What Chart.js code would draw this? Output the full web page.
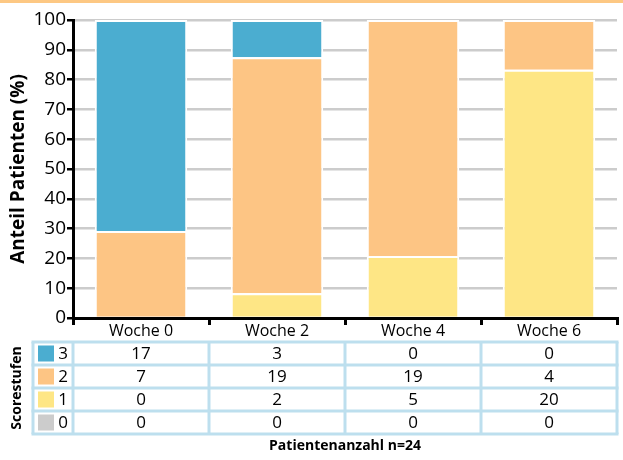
<!DOCTYPE html>
<html>
<head>
<meta charset="utf-8">
<script src="https://cdn.jsdelivr.net/npm/chart.js@4"></script>
<style>
  html, body { margin: 0; padding: 0; background: #fff; }
  #wrap { width: 623px; height: 460px; position: relative; }
</style>
</head>
<body>
<div id="wrap"><canvas id="chart" width="623" height="460"></canvas></div>
<script>
// data (patient counts per score level)
const categories = ['Woche 0', 'Woche 2', 'Woche 4', 'Woche 6'];
const score3 = [17, 3, 0, 0];
const score2 = [7, 19, 19, 4];
const score1 = [0, 2, 5, 20];
const score0 = [0, 0, 0, 0];
const nPatients = 24;
const yTicks = [0, 10, 20, 30, 40, 50, 60, 70, 80, 90, 100];

const colors = { 3: '#4badd0', 2: '#fdc584', 1: '#fee685', 0: '#cccccc' };
const FONT = '"Open Sans", "Noto Sans", sans-serif';

// share of patients in %
function pct(arr) {
  return arr.map(v => v / nPatients * 100);
}

const tableRows = [
  { label: '3', values: score3, color: colors[3] },
  { label: '2', values: score2, color: colors[2] },
  { label: '1', values: score1, color: colors[1] },
  { label: '0', values: score0, color: colors[0] }
];

function makeSet(label, values, color) {
  return {
    label: label,
    data: pct(values),
    backgroundColor: color,
    borderColor: '#ffffff',
    borderWidth: { top: 2, left: 2, right: 2, bottom: 0 },
    borderSkipped: false
  };
}

// draws the orange strip, axis title and the count table
const extras = {
  id: 'extras',
  beforeDraw(chart) {
    const ctx = chart.ctx;
    ctx.save();
    ctx.fillStyle = '#fff';
    ctx.fillRect(0, 0, chart.width, chart.height);
    ctx.fillStyle = '#fdc883';
    ctx.fillRect(0, 0, chart.width, 3);
    ctx.restore();
  },
  afterDraw(chart) {
    const ctx = chart.ctx;
    const area = chart.chartArea;
    const x = chart.scales.x;

    ctx.save();
    // y axis title
    ctx.fillStyle = '#000';
    ctx.font = 'bold 19px ' + FONT;
    ctx.textAlign = 'center';
    ctx.textBaseline = 'middle';
    ctx.translate(19, (area.top + area.bottom) / 2);
    ctx.rotate(-Math.PI / 2);
    ctx.fillText('Anteil Patienten (%)', 0, 0);
    ctx.restore();

    // column edges follow the category scale
    const edges = [33, area.left];
    for (let i = 0; i < categories.length - 1; i++) {
      edges.push((x.getPixelForValue(i) + x.getPixelForValue(i + 1)) / 2);
    }
    edges.push(area.right);

    const top = 342;
    const rowH = 23;
    const bottom = top + rowH * tableRows.length;

    ctx.save();
    tableRows.forEach((row, r) => {
      const cy = top + rowH * r + rowH / 2;
      ctx.fillStyle = row.color;
      ctx.fillRect(38, cy - 8, 16, 16);
      ctx.fillStyle = '#000';
      ctx.font = '17px ' + FONT;
      ctx.textAlign = 'center';
      ctx.textBaseline = 'middle';
      ctx.fillText(row.label, 63, cy + 1);
      row.values.forEach((v, i) => {
        ctx.fillText(String(v), (edges[i + 1] + edges[i + 2]) / 2, cy + 1);
      });
    });

    ctx.strokeStyle = '#bddfee';
    ctx.lineWidth = 3;
    for (let r = 0; r <= tableRows.length; r++) {
      const yy = top + rowH * r;
      ctx.beginPath();
      ctx.moveTo(edges[0] - 1.5, yy);
      ctx.lineTo(edges[edges.length - 1] + 1.5, yy);
      ctx.stroke();
    }
    edges.forEach(ex => {
      ctx.beginPath();
      ctx.moveTo(ex, top);
      ctx.lineTo(ex, bottom);
      ctx.stroke();
    });

    ctx.fillStyle = '#000';
    ctx.font = 'bold 14px ' + FONT;
    ctx.textAlign = 'center';
    ctx.textBaseline = 'middle';
    ctx.fillText('Patientenanzahl n=24', (area.left + area.right) / 2, 446);

    ctx.translate(17, (top + bottom) / 2);
    ctx.rotate(-Math.PI / 2);
    ctx.fillText('Scorestufen', 0, 0);
    ctx.restore();
  }
};

new Chart(document.getElementById('chart').getContext('2d'), {
  type: 'bar',
  data: {
    labels: categories,
    datasets: [
      makeSet('0', score0, colors[0]),
      makeSet('1', score1, colors[1]),
      makeSet('2', score2, colors[2]),
      makeSet('3', score3, colors[3])
    ]
  },
  options: {
    responsive: false,
    animation: false,
    devicePixelRatio: 1,
    layout: { padding: { left: 0, right: 6, top: 20, bottom: 0 } },
    datasets: { bar: { categoryPercentage: 1, barPercentage: 0.68 } },
    plugins: { legend: { display: false }, tooltip: { enabled: false } },
    scales: {
      x: {
        stacked: true,
        afterFit(scale) { scale.height = 142; },
        border: { display: true, color: '#000', width: 3 },
        grid: { offset: true, drawOnChartArea: false, drawTicks: true, tickLength: 7, color: '#000', lineWidth: 3 },
        ticks: { color: '#000', font: { family: FONT, size: 16 }, padding: -3 }
      },
      y: {
        stacked: true,
        min: 0,
        max: 100,
        afterFit(scale) { scale.width = 73; },
        afterBuildTicks(scale) { scale.ticks = yTicks.map(v => ({ value: v })); },
        border: { display: true, color: '#000', width: 3 },
        grid: { color: '#cccccc', lineWidth: 2.5, tickLength: 6, tickColor: '#000', tickWidth: 2.5 },
        ticks: { color: '#000', font: { family: FONT, size: 19 }, padding: 1 }
      }
    }
  },
  plugins: [extras]
});
</script>
</body>
</html>
